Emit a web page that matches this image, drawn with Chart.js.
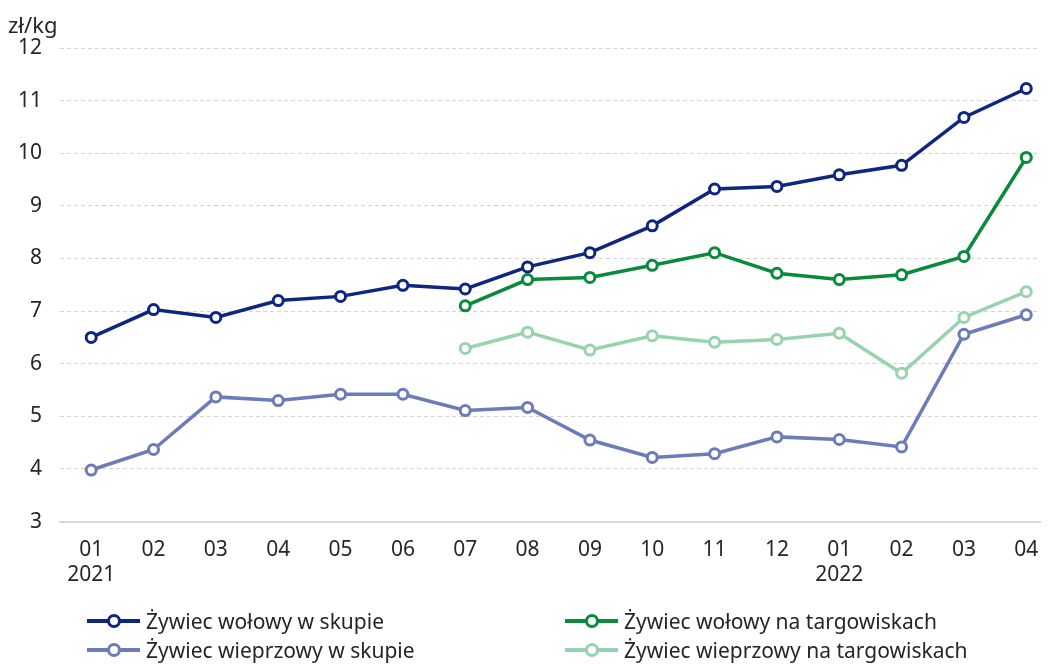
<!DOCTYPE html>
<html>
<head>
<meta charset="utf-8">
<script src="https://cdn.jsdelivr.net/npm/chart.js@4"></script>
<style>
  html, body { margin: 0; padding: 0; background: #fff; }
  #wrap { position: relative; width: 1048px; height: 664px; font-family: "Noto Sans", sans-serif; color: #262626; }
  #unit { position: absolute; left: 8px; top: 9px; font-size: 22px; }
  #legend { position: absolute; left: 87px; top: 607px; display: grid; grid-template-columns: 478px 480px; row-gap: 1px; font-size: 21px; }
  .item { display: flex; align-items: center; height: 28px; }
  .mark { position: relative; width: 53px; height: 4px; margin-right: 6px; }
  .mark i { position: absolute; left: 20px; top: -5px; width: 8px; height: 8px; border-radius: 50%; background: #fff; border: 3px solid; }
</style>
</head>
<body>
<div id="wrap">
  <canvas id="chart" width="1048" height="664"></canvas>
  <div id="unit">zł/kg</div>
  <div id="legend"></div>
</div>
<script>
const months = ["01", "02", "03", "04", "05", "06", "07", "08", "09", "10", "11", "12", "01", "02", "03", "04"];
const years = ["2021", "", "", "", "", "", "", "", "", "", "", "", "2022", "", "", ""];
const yTicks = [3, 4, 5, 6, 7, 8, 9, 10, 11, 12];

const beefSkup = [6.5, 7.03, 6.88, 7.2, 7.28, 7.49, 7.42, 7.84, 8.11, 8.62, 9.32, 9.37, 9.59, 9.77, 10.68, 11.23];
const beefMarket = [null, null, null, null, null, null, 7.1, 7.6, 7.64, 7.87, 8.11, 7.72, 7.6, 7.69, 8.04, 9.92];
const porkSkup = [3.98, 4.37, 5.37, 5.3, 5.42, 5.42, 5.11, 5.17, 4.55, 4.22, 4.29, 4.61, 4.56, 4.42, 6.56, 6.93];
const porkMarket = [null, null, null, null, null, null, 6.29, 6.6, 6.26, 6.53, 6.41, 6.46, 6.58, 5.82, 6.88, 7.37];

const seriesNames = ["Żywiec wołowy w skupie", "Żywiec wołowy na targowiskach", "Żywiec wieprzowy w skupie", "Żywiec wieprzowy na targowiskach"];
const seriesColors = ["#0f2680", "#0a8a3c", "#6b7cb9", "#97d3af"];
const seriesValues = [beefSkup, beefMarket, porkSkup, porkMarket];

const toPoints = (values) => values.map((v, i) => ({ x: i, y: v }));

const datasets = seriesValues.map((values, i) => ({
  label: seriesNames[i],
  data: toPoints(values),
  borderColor: seriesColors[i],
  backgroundColor: "#fff",
  pointBorderColor: seriesColors[i],
  pointBackgroundColor: "#fff",
  borderWidth: 3.5,
  pointRadius: 5,
  pointBorderWidth: 3,
  tension: 0,
  spanGaps: false,
}));

// draw order: lighter series underneath
const drawOrder = [0, 2, 1, 3];
datasets.forEach((ds, i) => { ds.order = drawOrder[i]; });

new Chart(document.getElementById("chart"), {
  type: "line",
  data: { datasets },
  options: {
    responsive: false,
    animation: false,
    layout: { padding: { top: 48, right: 2, bottom: 68, left: 0 } },
    plugins: { legend: { display: false }, tooltip: { enabled: false } },
    scales: {
      x: {
        type: "linear",
        min: -0.5,
        max: 15.22,
        afterBuildTicks: (axis) => { axis.ticks = months.map((_, i) => ({ value: i })); },
        ticks: {
          autoSkip: false,
          maxRotation: 0,
          padding: 8,
          color: "#262626",
          font: { family: "Noto Sans", size: 21 },
          callback: (value) => years[value] ? [months[value], years[value]] : months[value],
        },
        grid: { display: false },
        border: { display: true, color: "#d9d9d9", width: 2 },
      },
      y: {
        min: 3,
        max: 12,
        afterBuildTicks: (axis) => { axis.ticks = yTicks.map((v) => ({ value: v })); },
        ticks: {
          padding: 18,
          color: "#262626",
          font: { family: "Noto Sans", size: 21 },
        },
        grid: {
          color: (ctx) => ctx.tick && ctx.tick.value === 3 ? "rgba(0,0,0,0)" : "#d4d4d4",
          lineWidth: 1,
          drawTicks: false,
        },
        border: { display: false, dash: [4, 3] },
      },
    },
  },
});

const legend = document.getElementById("legend");
[0, 1, 2, 3].forEach((i) => {
  const item = document.createElement("div");
  item.className = "item";
  item.innerHTML = `<span class="mark" style="background:${seriesColors[i]}"><i style="border-color:${seriesColors[i]}"></i></span>${seriesNames[i]}`;
  legend.appendChild(item);
});
</script>
</body>
</html>
